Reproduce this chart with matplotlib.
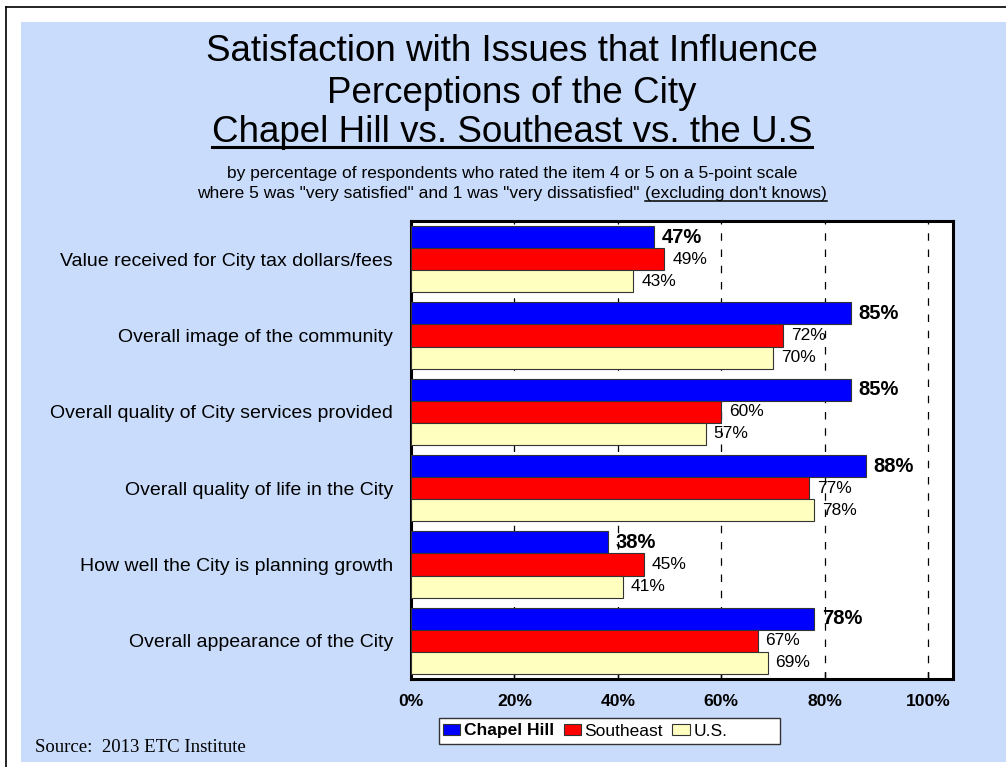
import matplotlib
matplotlib.use("Agg")
import matplotlib.pyplot as plt
from matplotlib.patches import Rectangle
from matplotlib.lines import Line2D
import numpy as np

plt.rcParams['font.family'] = ['Liberation Sans', 'DejaVu Sans']

categories = [
    "Value received for City tax dollars/fees",
    "Overall image of the community",
    "Overall quality of City services provided",
    "Overall quality of life in the City",
    "How well the City is planning growth",
    "Overall appearance of the City",
]
series_names = ["Chapel Hill", "Southeast", "U.S."]
chapel_hill = [47, 85, 85, 88, 38, 78]
southeast = [49, 72, 60, 77, 45, 67]
us = [43, 70, 57, 78, 41, 69]
x_ticks = [0, 20, 40, 60, 80, 100]

W, H = 1006, 767
fig = plt.figure(figsize=(W / 100, H / 100), dpi=100, facecolor="white")


def fx(px):
    return px / W


def fy(py):
    return 1 - py / H


# page background and frame lines
fig.patches.append(Rectangle((fx(21), fy(762)), fx(1006) - fx(21), fy(22) - fy(762),
                             transform=fig.transFigure, facecolor="#C9DCFB",
                             edgecolor="none", zorder=0))
fig.lines.append(Line2D([fx(6), fx(1006)], [fy(7), fy(7)], transform=fig.transFigure,
                        color="black", lw=1.2))
fig.lines.append(Line2D([fx(6), fx(6)], [fy(7), fy(767)], transform=fig.transFigure,
                        color="black", lw=1.2))

ax = fig.add_axes([fx(411), fy(679), fx(953) - fx(411), fy(221) - fy(679)])
ax.set_zorder(5)
ax.set_facecolor("white")

y = np.arange(len(categories))
h = 0.29
colors = ["#0000FF", "#FF0000", "#FFFFC0"]
data = [chapel_hill, southeast, us]
for i, (vals, col, name) in enumerate(zip(data, colors, series_names)):
    ax.barh(y + (i - 1) * h, vals, height=h, color=col, edgecolor="#333333",
            linewidth=0.8, label=name, zorder=3)
    for yy, v in zip(y + (i - 1) * h, vals):
        if i == 0:
            ax.text(v + 1.5, yy, f"{v}%", va="center", ha="left", fontsize=14.5,
                    fontweight="bold", zorder=4)
        else:
            ax.text(v + 1.5, yy, f"{v}%", va="center", ha="left", fontsize=12.5,
                    zorder=4)

ax.set_xlim(0, 104.8)
ax.set_ylim(5.5, -0.5)
ax.set_xticks(x_ticks)
ax.set_xticklabels([f"{t}%" for t in x_ticks], fontsize=12.6, fontweight="bold")
ax.tick_params(axis="x", direction="in", length=5, width=1, pad=11)
ax.set_yticks(y)
ax.set_yticklabels(categories, fontsize=14)
ax.tick_params(axis="y", length=0, pad=13)
for t in x_ticks[1:]:
    ax.axvline(t, color="black", lw=0.9, ls=(0, (6, 7)), zorder=1)
for s in ax.spines.values():
    s.set_linewidth(2.2)
    s.set_color("black")

# titles
cx = fx(512)
fig.text(cx, fy(61), "Satisfaction with Issues that Influence", ha="center", va="baseline", fontsize=26.5)
fig.text(cx, fy(103), "Perceptions of the City", ha="center", va="baseline", fontsize=26.5)
t3 = fig.text(cx, fy(142), "Chapel Hill vs. Southeast vs. the U.S", ha="center", va="baseline", fontsize=26.5)
fig.text(cx, fy(178), "by percentage of respondents who rated the item 4 or 5 on a 5-point scale",
         ha="center", va="baseline", fontsize=12.5)

fig.canvas.draw()
r = fig.canvas.get_renderer()


def underline(t, ypix, lw):
    bb = t.get_window_extent(r)
    fig.lines.append(Line2D([bb.x0 / W, bb.x1 / W], [fy(ypix), fy(ypix)],
                            transform=fig.transFigure, color="black", lw=lw))


underline(t3, 147, 2.2)

part1 = 'where 5 was "very satisfied" and 1 was "very dissatisfied" '
part2 = "(excluding don't knows)"
a = fig.text(0, fy(198), part1, ha="left", va="baseline", fontsize=12.5)
b = fig.text(0, fy(198), part2, ha="left", va="baseline", fontsize=12.5)
wa = a.get_window_extent(r).width
wb = b.get_window_extent(r).width
x0 = 512 - (wa + wb) / 2
a.set_x(x0 / W)
b.set_x((x0 + wa) / W)
fig.canvas.draw()
underline(b, 201, 1.1)

# legend
fig.patches.append(Rectangle((fx(439), fy(744)), fx(780) - fx(439), fy(718) - fy(744),
                             transform=fig.transFigure, facecolor="white",
                             edgecolor="#333333", lw=1, zorder=2))
leg = fig.legend(loc="center left", bbox_to_anchor=(fx(443), fy(731)), ncol=3,
                 frameon=False, fontsize=12.5, handlelength=1.0, handleheight=0.63,
                 handletextpad=0.2, columnspacing=0.55, borderpad=0, borderaxespad=0)
leg.get_texts()[0].set_fontweight("bold")
leg.set_zorder(3)

fig.text(fx(35), fy(752), "Source:  2013 ETC Institute", ha="left", va="baseline",
         fontsize=13.5, family=["Liberation Serif", "DejaVu Serif"])

fig.savefig("out.png", dpi=100, facecolor="white")
